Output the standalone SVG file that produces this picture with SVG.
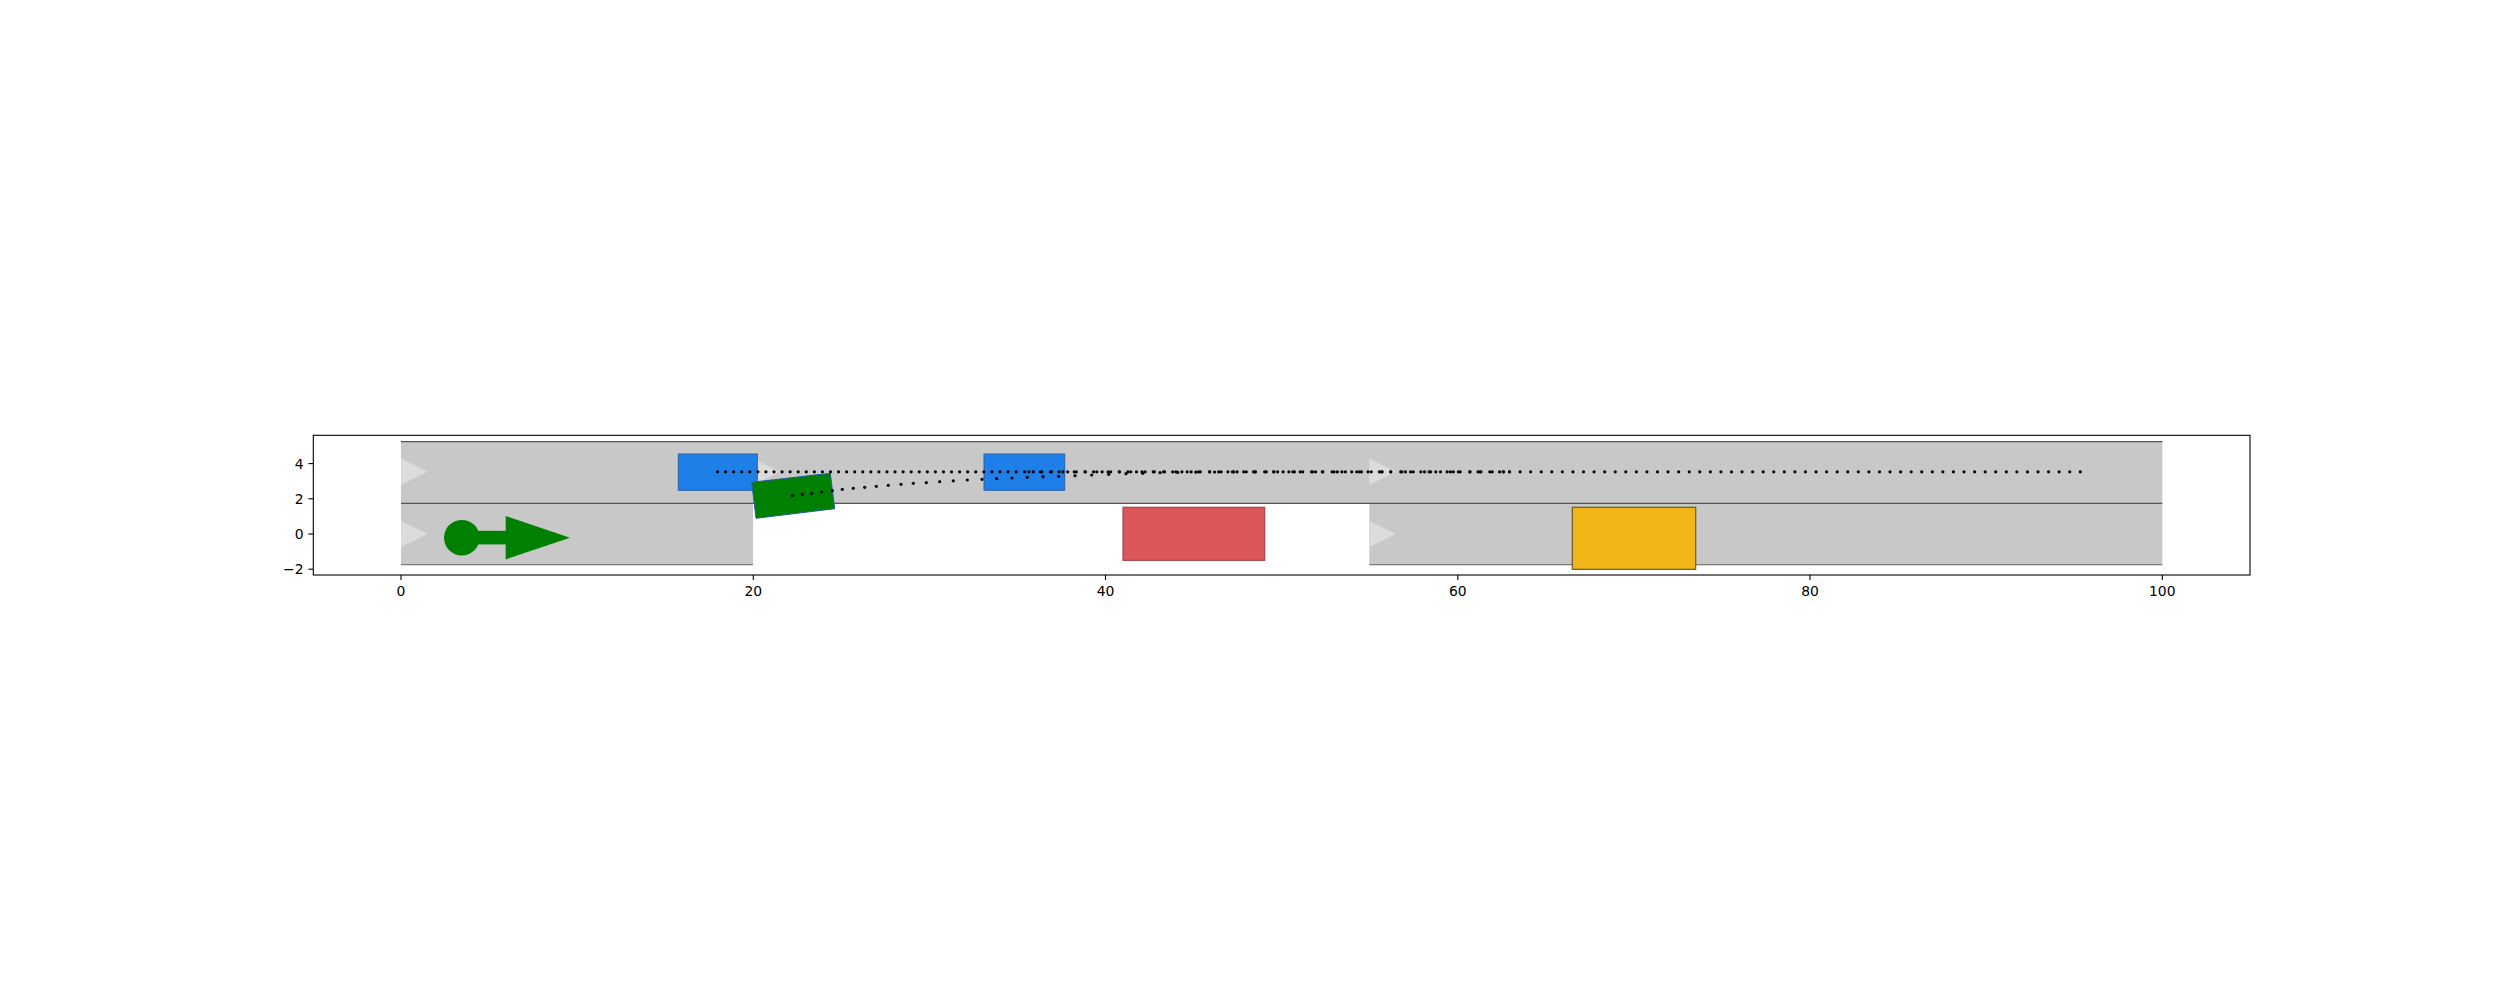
<svg xmlns="http://www.w3.org/2000/svg" width="2500" height="1000" viewBox="0 0 2500 1000">
<style>
.road{fill:#c8c8c8;stroke:none}
.edge{stroke:#555555;stroke-width:1.3;fill:none}
.edge2{stroke:#7a7a7a;stroke-width:1.3;fill:none}
.tri{fill:#dcdcdc;stroke:none}
.car{fill:#1f7fe8;stroke:#2a62a8;stroke-width:1}
.dots{stroke:#000;stroke-width:3.2;stroke-linecap:round;fill:none}
.dot{fill:#000}
.tick{stroke:#000;stroke-width:1.1}
.lbl{font-family:"DejaVu Sans",sans-serif;font-size:13.9px;fill:#000}
</style>
<rect width="2500" height="1000" fill="#ffffff"/>
<g id="road">
<rect class="road" x="401" y="441.6" width="1761.3" height="61.7"/>
<rect class="road" x="401" y="503.3" width="352" height="61.5"/>
<rect class="road" x="1369.3" y="503.3" width="793" height="61.5"/>
<line class="edge" x1="401" y1="441.6" x2="2162.3" y2="441.6"/>
<line class="edge" x1="401" y1="503.3" x2="2162.3" y2="503.3"/>
<line class="edge2" x1="401" y1="564.6" x2="753" y2="564.6"/>
<line class="edge2" x1="1369.3" y1="564.6" x2="2162.3" y2="564.6"/>
<polygon class="tri" points="401,458.6 427.4,471.8 401,485"/>
<polygon class="tri" points="401,520.8 427.4,534 401,547.2"/>
<polygon class="tri" points="753,458.6 779.4,471.8 753,485"/>
<polygon class="tri" points="1369.3,458.6 1395.7,471.8 1369.3,485"/>
<polygon class="tri" points="1369.3,520.8 1395.7,534 1369.3,547.2"/>
</g>
<g id="car1"><rect class="car" x="678.3" y="454" width="79" height="36.3"/></g>
<g id="car2"><rect class="car" x="984" y="454" width="80.7" height="36.3"/></g>
<g id="green-car"><polygon points="751.7,482.3 830.3,473.3 834.7,508.7 756,518.3" fill="#008000" stroke="#1f5f9f" stroke-width="1"/></g>
<g id="red-obstacle"><rect x="1123" y="507.3" width="141.7" height="53" fill="#dc575a" stroke="#a8434a" stroke-width="1.2"/></g>
<g id="yellow-obstacle"><rect x="1572.3" y="507.3" width="123.4" height="62" fill="#f0b516" stroke="#6b5a24" stroke-width="1.2"/></g>
<g id="ego">
<circle cx="461.8" cy="537.7" r="17.8" fill="#008000"/>
<rect x="462" y="530.8" width="44" height="13.6" fill="#008000"/>
<polygon points="505.7,516 570,537.7 505.7,559.4" fill="#008000"/>
</g>
<g id="trajectories">
<line class="dots" x1="717.5" y1="471.8" x2="1016.5" y2="471.8" stroke-dasharray="0 8.07"/>
<line class="dots" x1="1024.7" y1="471.8" x2="1145.5" y2="471.8" stroke-dasharray="0 8.6"/>
<line class="dots" x1="1154.3" y1="471.8" x2="1283.5" y2="471.8" stroke-dasharray="0 9.2"/>
<line class="dots" x1="1292.9" y1="471.8" x2="1410.9" y2="471.8" stroke-dasharray="0 9.8"/>
<line class="dots" x1="1420.8" y1="471.8" x2="1509.8" y2="471.8" stroke-dasharray="0 9.856"/>
<line class="dots" x1="2080.3" y1="471.8" x2="1509.3" y2="471.8" stroke-dasharray="0 10.57"/>
<line class="dots" x1="1029" y1="471.8" x2="1506" y2="471.8" stroke-dasharray="0 11.3"/>
<g class="dot">
<circle cx="792.7" cy="495.7" r="1.6"/><circle cx="802.3" cy="494.3" r="1.6"/><circle cx="811.7" cy="493.3" r="1.6"/><circle cx="821.7" cy="492" r="1.6"/><circle cx="832.3" cy="490.7" r="1.6"/><circle cx="842.3" cy="489.3" r="1.6"/><circle cx="853.3" cy="488.3" r="1.6"/><circle cx="864.7" cy="487.3" r="1.6"/><circle cx="876.3" cy="486.3" r="1.6"/><circle cx="888.3" cy="485.3" r="1.6"/><circle cx="901" cy="484.3" r="1.6"/><circle cx="913.3" cy="483.3" r="1.6"/><circle cx="926.3" cy="482.7" r="1.6"/><circle cx="939.7" cy="481.7" r="1.6"/><circle cx="953.3" cy="480.8" r="1.6"/><circle cx="967.3" cy="480" r="1.6"/><circle cx="982" cy="479.3" r="1.6"/><circle cx="996.7" cy="478.7" r="1.6"/><circle cx="1012" cy="478" r="1.6"/><circle cx="1027.3" cy="477.3" r="1.6"/><circle cx="1043" cy="476.7" r="1.6"/><circle cx="1058.7" cy="476.3" r="1.6"/><circle cx="1075" cy="475.7" r="1.6"/><circle cx="1091.7" cy="475" r="1.6"/><circle cx="1108.7" cy="474.3" r="1.6"/><circle cx="1126" cy="473.7" r="1.6"/><circle cx="1142.7" cy="473.3" r="1.6"/><circle cx="1160" cy="472.7" r="1.6"/><circle cx="1177.7" cy="472.4" r="1.6"/><circle cx="1195.9" cy="472.2" r="1.6"/><circle cx="1214.6" cy="472" r="1.6"/><circle cx="1233.8" cy="471.9" r="1.6"/><circle cx="1253.5" cy="471.8" r="1.6"/><circle cx="1273.7" cy="471.8" r="1.6"/><circle cx="1294.4" cy="471.8" r="1.6"/><circle cx="1315.6" cy="471.8" r="1.6"/><circle cx="1337.3" cy="471.8" r="1.6"/><circle cx="1359.5" cy="471.8" r="1.6"/><circle cx="1382.2" cy="471.8" r="1.6"/><circle cx="1405.4" cy="471.8" r="1.6"/><circle cx="1429.1" cy="471.8" r="1.6"/><circle cx="1453.3" cy="471.8" r="1.6"/><circle cx="1478" cy="471.8" r="1.6"/><circle cx="1503.2" cy="471.8" r="1.6"/>
</g>
</g>
<g id="axes">
<rect x="313.3" y="435.3" width="1936.7" height="139.7" fill="none" stroke="#000" stroke-width="1.1"/>
<line class="tick" x1="401" y1="575" x2="401" y2="579.9"/>
<line class="tick" x1="753.3" y1="575" x2="753.3" y2="579.9"/>
<line class="tick" x1="1105.5" y1="575" x2="1105.5" y2="579.9"/>
<line class="tick" x1="1457.8" y1="575" x2="1457.8" y2="579.9"/>
<line class="tick" x1="1810" y1="575" x2="1810" y2="579.9"/>
<line class="tick" x1="2162.3" y1="575" x2="2162.3" y2="579.9"/>
<line class="tick" x1="313.3" y1="463.6" x2="308.4" y2="463.6"/>
<line class="tick" x1="313.3" y1="498.8" x2="308.4" y2="498.8"/>
<line class="tick" x1="313.3" y1="534" x2="308.4" y2="534"/>
<line class="tick" x1="313.3" y1="569.2" x2="308.4" y2="569.2"/>
<g class="lbl" text-anchor="middle">
<text x="401" y="595.5">0</text>
<text x="753.3" y="595.5">20</text>
<text x="1105.5" y="595.5">40</text>
<text x="1457.8" y="595.5">60</text>
<text x="1810" y="595.5">80</text>
<text x="2162.3" y="595.5">100</text>
</g>
<g class="lbl" text-anchor="end">
<text x="303.6" y="468.6">4</text>
<text x="303.6" y="503.8">2</text>
<text x="303.6" y="539">0</text>
<text x="303.6" y="574.2">−2</text>
</g>
</g>
</svg>
